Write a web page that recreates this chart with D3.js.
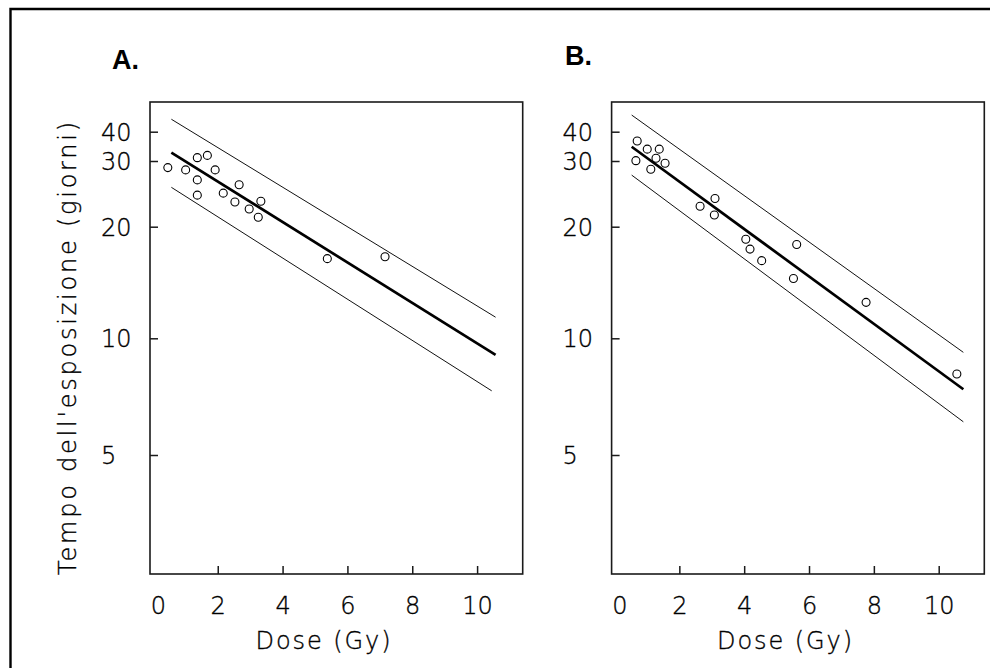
<!DOCTYPE html>
<html>
<head>
<meta charset="utf-8">
<script src="https://cdn.jsdelivr.net/npm/d3@7"></script>
<style>
  html, body { margin: 0; padding: 0; background: #fff; }
  svg { display: block; }
  text.lt { font-family: "DejaVu Sans", sans-serif; font-weight: 200; fill: #000; stroke: #000; stroke-width: 0.35px; }
  text.letter { font-family: "Liberation Sans", Arial, sans-serif; font-weight: bold; fill: #000; }
</style>
</head>
<body>
<svg id="chart" width="990" height="668"></svg>
<script>
// ---- data -------------------------------------------------------------
const panelLabels = ["A.", "B."];
const doseTicks = [0, 2, 4, 6, 8, 10];
const timeTicks = [5, 10, 20, 30, 40];
const timeTickLabels = ["5", "10", "20", "30", "40"];
const xTitle = "Dose (Gy)";
const yTitle = "Tempo dell'esposizione (giorni)";

// observed exposure times (days) against dose (Gy)
const doseA = [0.46, 1.01, 1.37, 1.68, 1.92, 1.37, 1.37, 2.17, 2.66, 2.53, 2.97, 3.33, 3.25, 5.38, 7.16];
const timeA = [28.8, 28.4, 31.0, 31.7, 28.4, 26.7, 24.3, 24.6, 25.9, 23.3, 22.3, 23.4, 21.2, 16.4, 16.6];
const doseB = [0.70, 1.01, 1.38, 0.66, 1.28, 1.12, 1.56, 2.64, 3.10, 3.08, 4.05, 4.18, 4.54, 5.62, 5.52, 7.76, 10.56];
const timeB = [36.5, 33.7, 33.7, 30.1, 30.8, 28.5, 29.6, 22.7, 23.8, 21.5, 18.5, 17.4, 16.2, 17.9, 14.5, 12.5, 8.09];

// regression line and its band, as [dose, days] end points
const fitA   = [[0.57, 32.6], [10.57, 9.06]];
const upperA = [[0.57, 45.2], [10.57, 11.4]];
const lowerA = [[0.57, 25.5], [10.45, 7.32]];
const fitB   = [[0.53, 34.5], [10.76, 7.39]];
const upperB = [[0.53, 47.1], [10.76, 9.20]];
const lowerB = [[0.53, 27.5], [10.76, 6.09]];

// ---- layout -----------------------------------------------------------
const W = 990, H = 668;
const plotTop = 102, plotW = 372.7, plotH = 472;
const panelLeft = [150, 611.6];
const letterPos = [[112, 69], [565, 65]];

const panels = [
  { label: panelLabels[0], dose: doseA, time: timeA, fit: fitA, upper: upperA, lower: lowerA },
  { label: panelLabels[1], dose: doseB, time: timeB, fit: fitB, upper: upperB, lower: lowerB }
];

const svg = d3.select("#chart");

// outer frame (top and left edges fall inside the window)
svg.append("path")
  .attr("d", `M10.5,${H} V9 H${W}`)
  .attr("fill", "none")
  .attr("stroke", "#000")
  .attr("stroke-width", 2.4);

// shared scales: linear dose, log-spaced days
const x = d3.scaleLinear().domain([0, 10]).range([2.9, 327.1]);
const y = d3.scaleLog().domain(timeTicks).range([353, 236.3, 124.7, 59, 29.7]);

const line = d3.line().x(d => x(d[0])).y(d => y(d[1]));

panels.forEach((p, i) => {
  const g = svg.append("g").attr("transform", `translate(${panelLeft[i]},${plotTop})`);

  // plot box
  g.append("rect")
    .attr("x", 0).attr("y", 0)
    .attr("width", plotW).attr("height", plotH)
    .attr("fill", "none")
    .attr("stroke", "#1a1a1a")
    .attr("stroke-width", 1.6);

  // x axis: inward ticks, labels below
  const xAxis = g.append("g")
    .attr("transform", `translate(0,${plotH})`)
    .call(d3.axisBottom(x).tickValues(doseTicks).tickFormat(d3.format("d"))
      .tickSize(-8).tickPadding(0));
  xAxis.select(".domain").remove();
  xAxis.selectAll(".tick line")
    .attr("stroke", "#1a1a1a").attr("stroke-width", 1.5)
    .filter(d => d === 0).remove();
  xAxis.selectAll(".tick text")
    .attr("class", "lt")
    .attr("x", d => d === 0 ? 5 : 0)
    .attr("y", 40).attr("dy", 0)
    .attr("font-size", 24);

  // y axis: inward ticks, labels left-aligned further out
  const yAxis = g.append("g")
    .call(d3.axisLeft(y).tickValues(timeTicks)
      .tickFormat((d, k) => timeTickLabels[k])
      .tickSize(-8).tickPadding(0));
  yAxis.select(".domain").remove();
  yAxis.selectAll(".tick line").attr("stroke", "#1a1a1a").attr("stroke-width", 1.5);
  yAxis.selectAll(".tick text")
    .attr("class", "lt")
    .attr("x", -49).attr("dy", "0.36em")
    .attr("text-anchor", "start")
    .attr("font-size", 24);

  // band lines
  [p.upper, p.lower].forEach(seg => {
    g.append("path")
      .attr("d", line(seg))
      .attr("fill", "none")
      .attr("stroke", "#111")
      .attr("stroke-width", 1);
  });

  // regression line
  g.append("path")
    .attr("d", line(p.fit))
    .attr("fill", "none")
    .attr("stroke", "#000")
    .attr("stroke-width", 2.7);

  // observations
  g.selectAll("circle.obs")
    .data(d3.range(p.dose.length))
    .join("circle")
    .attr("class", "obs")
    .attr("cx", k => x(p.dose[k]))
    .attr("cy", k => y(p.time[k]))
    .attr("r", 4)
    .attr("fill", "none")
    .attr("stroke", "#000")
    .attr("stroke-width", 1.1);

  // x title
  g.append("text")
    .attr("class", "lt")
    .attr("x", 173).attr("y", plotH + 75)
    .attr("text-anchor", "middle")
    .attr("font-size", 24)
    .attr("textLength", 135)
    .attr("lengthAdjust", "spacing")
    .text(xTitle);

  // panel letter
  svg.append("text")
    .attr("class", "letter")
    .attr("x", letterPos[i][0]).attr("y", letterPos[i][1])
    .attr("font-size", 27)
    .text(p.label);
});

// y title (left panel only)
svg.append("text")
  .attr("class", "lt")
  .attr("transform", "translate(76,348.4) rotate(-90)")
  .attr("text-anchor", "middle")
  .attr("font-size", 24)
  .attr("textLength", 453)
  .attr("lengthAdjust", "spacing")
  .text(yTitle);
</script>
</body>
</html>
